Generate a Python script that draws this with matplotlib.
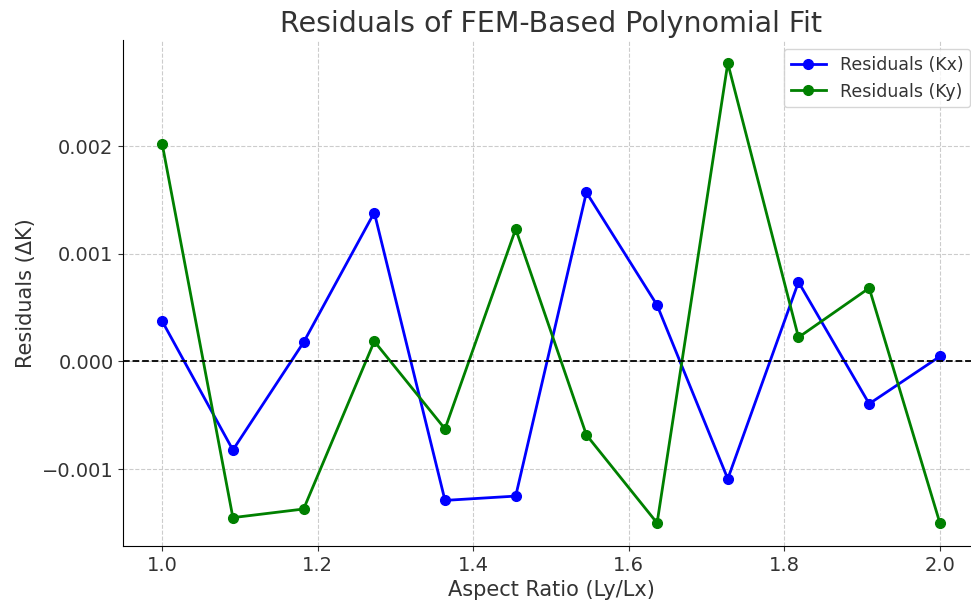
import numpy as np
import matplotlib.pyplot as plt

# Aspect ratios (Ly/Lx)
aspect_ratio = np.linspace(1.0, 2.0, 12)

# Residuals
res_kx = [0.000374, -0.000822, 0.000178, 0.001383, -0.00129, -0.00125,
          0.00157, 0.000523, -0.00109, 0.000738, -0.000393, 0.000047]
res_ky = [0.00202, -0.00145, -0.00137, 0.000187, -0.000626, 0.00123,
          -0.000682, -0.0015, 0.00277, 0.000224, 0.000682, -0.0015]

fig, ax = plt.subplots(figsize=(9.71, 6), dpi=100)
fig.subplots_adjust(left=0.127, right=1.008, top=0.933, bottom=0.09)

ax.plot(aspect_ratio, res_kx, 'o-', color='blue', lw=2, ms=7, label='Residuals (Kx)')
ax.plot(aspect_ratio, res_ky, 'o-', color='green', lw=2, ms=7, label='Residuals (Ky)')
ax.axhline(0, color='black', linestyle='--', lw=1.3)

ax.set_title('Residuals of FEM-Based Polynomial Fit', fontsize=20.5, color='#333333')
ax.set_xlabel('Aspect Ratio (Ly/Lx)', fontsize=15, color='#333333')
ax.set_ylabel('Residuals (ΔK)', fontsize=15, color='#333333')
ax.tick_params(labelsize=14, colors='#333333')
ax.grid(True, linestyle='--', color='#cccccc', lw=0.8)
ax.spines['top'].set_visible(False)
ax.spines['right'].set_visible(False)
ax.legend(fontsize=12.5, loc='upper right', labelcolor='#333333')

plt.savefig('out.png', dpi=100)
